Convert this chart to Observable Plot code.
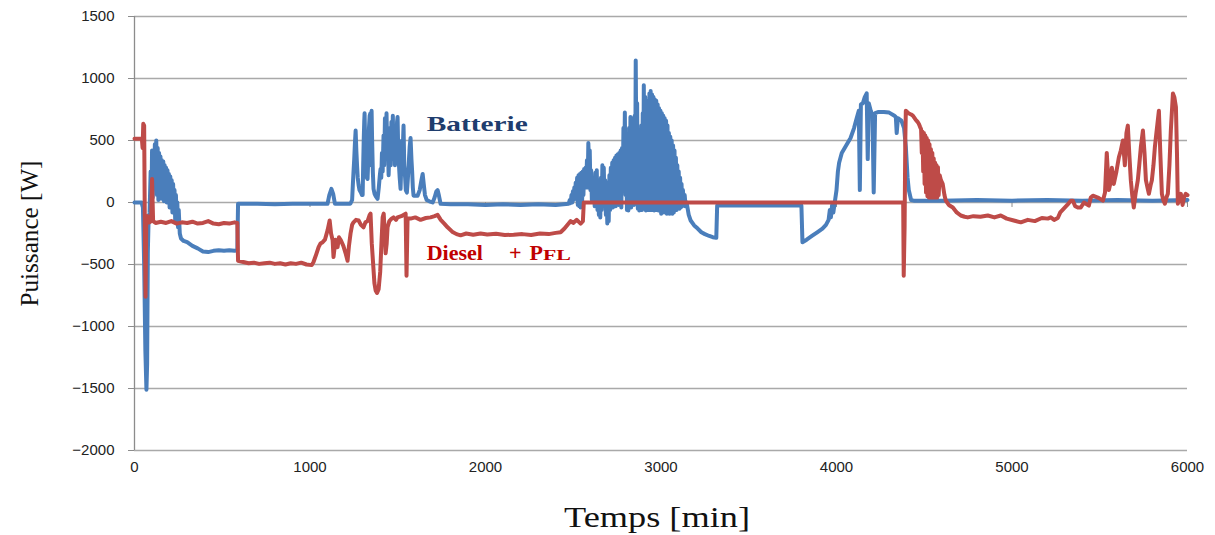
<!DOCTYPE html>
<html><head><meta charset="utf-8">
<script src="https://cdn.jsdelivr.net/npm/d3@7"></script>
<script src="https://cdn.jsdelivr.net/npm/@observablehq/plot@0.6"></script>
<style>body{margin:0;background:#fff;} #chart{width:1215px;height:535px;}</style>
</head><body><div id="chart"></div>
<script>
const xTicks = [0,1000,2000,3000,4000,5000,6000];
const yTicks = [-2000,-1500,-1000,-500,0,500,1000,1500];
const seriesNames = ["Batterie","Diesel + PFL"];
const seriesColors = ["#4a7ebb","#be4b48"];
const xTitle = "Temps [min]";
const yTitle = "Puissance [W]";

// Batterie: [temps (min), puissance (W)]
const batterie = [
[0,0],[40,0],[48,-40],[55,-500],[62,-1200],[68,-1510],[72,-1300],[76,-400],[80,-150],[86,-80],
[92,250],[96,-60],[100,420],[104,40],[108,390],[112,120],[116,470],[120,200],[124,500],[128,60],[132,440],[136,20],[140,400],[144,180],[148,370],[152,30],[156,340],[160,60],[164,330],[168,10],[172,300],[176,100],[180,280],[184,0],[188,260],[192,40],[196,230],[200,-40],[204,210],[208,0],[212,180],[216,-80],[220,150],[224,-60],[228,100],[232,-150],[236,60],[240,-120],[244,0],[248,-200],[252,-60],[258,-250],[265,-290],[280,-310],[300,-320],[330,-350],[360,-370],[390,-395],[420,-400],[450,-390],[480,-385],[510,-390],[540,-385],[570,-390],[586,-385],[590,-10],
[700,-10],[800,-15],[900,-10],[1000,-10],[1100,-10],[1110,60],[1122,110],[1132,70],[1142,-10],[1230,-10],
[1240,20],[1244,140],[1248,250],[1252,350],[1256,480],[1260,580],[1264,420],[1268,300],[1272,200],[1277,140],[1282,100],[1290,80],[1296,60],[1300,60],[1303,300],[1306,500],[1309,650],[1311,720],[1314,500],[1317,300],[1320,220],[1324,200],[1328,190],[1332,350],[1336,600],[1340,700],[1344,720],[1347,300],[1351,740],[1354,500],[1358,250],[1362,110],[1368,70],[1375,50],[1385,30],[1392,120],[1398,220],[1402,270],[1406,200],[1410,400],[1414,250],[1419,540],[1423,300],[1427,680],[1431,350],[1436,720],[1440,400],[1444,500],[1448,220],[1452,400],[1456,600],[1460,300],[1464,650],[1468,450],[1472,700],[1476,350],[1480,600],[1484,300],[1488,515],[1492,350],[1496,650],[1499,690],[1503,400],[1507,300],[1511,200],[1516,110],[1520,300],[1524,500],[1528,400],[1533,620],[1537,300],[1542,200],[1546,100],[1552,80],[1558,200],[1564,350],[1568,450],[1573,520],[1578,350],[1582,250],[1586,120],[1590,55],[1613,55],[1625,100],[1635,180],[1642,230],[1648,150],[1655,60],[1665,20],[1680,10],[1699,0],[1710,40],[1720,90],[1727,100],[1734,60],[1744,-10],
[1800,-15],[1900,-15],[2000,-20],[2100,-15],[2200,-20],[2300,-15],[2400,-20],[2474,-10],
[2480,20],[2485,-5],[2490,60],[2494,0],[2498,90],[2502,20],[2506,120],[2510,30],[2514,160],[2518,40],[2522,200],[2526,-20],[2530,220],[2534,-30],[2538,230],[2542,-40],[2546,240],[2550,-20],[2554,250],[2558,60],[2562,270],[2566,120],[2570,280],[2574,150],[2578,340],[2582,120],[2586,480],[2590,300],[2594,420],[2598,100],[2602,260],[2606,20],[2610,200],[2614,15],[2618,180],[2622,-30],[2626,240],[2630,20],[2634,260],[2638,-60],[2642,180],[2646,-100],[2650,120],[2654,-120],[2658,200],[2662,-60],[2666,300],[2670,60],[2674,280],[2678,-20],[2682,180],[2686,-100],[2690,120],[2694,-170],[2698,160],[2702,-150],[2706,220],[2710,-60],[2714,280],[2718,40],[2722,320],[2726,-40],[2730,340],[2734,60],[2738,360],[2742,-30],[2746,380],[2750,80],[2754,390],[2758,-20],[2762,400],[2766,40],[2770,420],[2774,-40],[2778,440],[2782,100],[2786,600],[2790,140],[2794,725],[2798,60],[2802,420],[2806,-60],[2810,500],[2814,-65],[2818,600],[2822,80],[2826,690],[2830,-40],[2834,650],[2838,60],[2842,680],[2846,-20],[2850,700],[2853,200],[2856,1145],[2860,300],[2864,800],[2868,-50],[2872,500],[2876,-65],[2880,560],[2884,40],[2888,620],[2892,-60],[2896,720],[2899,100],[2902,945],[2906,-40],[2910,850],[2914,-65],[2918,700],[2922,-50],[2926,820],[2930,-60],[2934,880],[2938,-40],[2941,900],[2945,-60],[2949,870],[2953,-30],[2957,850],[2961,-65],[2965,830],[2969,-40],[2973,820],[2977,-60],[2981,790],[2985,-65],[2989,760],[2993,-50],[2997,740],[3001,-90],[3005,720],[3009,-60],[3013,700],[3017,-80],[3021,680],[3025,-40],[3029,660],[3033,-90],[3037,620],[3041,-60],[3045,560],[3049,-90],[3053,530],[3057,-70],[3061,500],[3065,-90],[3069,460],[3073,-80],[3077,420],[3081,-50],[3085,360],[3089,-60],[3093,300],[3097,-40],[3101,250],[3105,-50],[3109,200],[3113,-40],[3117,150],[3121,-30],[3125,100],[3130,-20],[3135,60],[3140,-30],[3146,0],[3158,-100],[3169,-145],[3189,-185],[3209,-210],[3230,-240],[3250,-255],[3275,-270],[3295,-280],[3315,-285],[3320,-25],
[3400,-25],[3500,-25],[3600,-25],[3700,-25],[3800,-25],
[3806,-320],[3830,-300],[3860,-270],[3890,-240],[3920,-210],[3940,-180],[3955,-140],[3962,-60],[3968,-120],[3975,-20],[3982,-80],[3990,0],[4000,100],[4008,250],[4015,320],[4030,400],[4055,460],[4080,520],[4100,600],[4115,680],[4127,740],[4133,100],[4139,790],[4150,800],[4161,850],[4172,880],[4178,350],[4184,800],[4195,740],[4205,700],[4212,80],[4220,720],[4240,730],[4270,730],[4300,725],[4330,700],[4338,690],[4343,560],[4350,680],[4370,660],[4385,600],[4395,450],[4405,200],[4412,100],[4425,20],[4440,15],
[4600,15],[4800,20],[5000,15],[5200,20],[5400,15],[5600,20],[5800,15],[6000,20]
];

// Diesel + PFL: [temps (min), puissance (W)]
const diesel = [
[0,515],[42,515],[46,440],[50,635],[55,620],[59,-200],[63,-760],[67,-150],[75,-110],[85,-160],[95,-150],[100,190],[106,-150],[120,-165],[150,-155],[180,-165],[210,-150],[240,-170],[270,-160],[300,-165],[330,-155],[360,-170],[390,-165],[420,-150],[450,-170],[480,-175],[510,-165],[540,-170],[570,-160],[586,-165],[590,-470],
[620,-480],[650,-490],[680,-485],[710,-495],[740,-490],[770,-485],[800,-495],[830,-490],[860,-500],[890,-490],[920,-495],[950,-485],[980,-500],[1010,-505],[1020,-480],[1035,-420],[1049,-360],[1060,-330],[1072,-320],[1085,-300],[1100,-225],[1112,-145],[1120,-250],[1129,-305],[1134,-440],[1145,-300],[1157,-360],[1165,-280],[1174,-300],[1190,-350],[1203,-410],[1214,-470],[1222,-350],[1231,-250],[1240,-180],[1248,-160],[1262,-140],[1277,-145],[1290,-180],[1305,-200],[1316,-160],[1328,-150],[1340,-100],[1345,-90],[1352,-330],[1360,-500],[1367,-650],[1374,-710],[1382,-730],[1391,-700],[1400,-560],[1408,-300],[1414,-120],[1420,-90],[1426,-250],[1431,-410],[1437,-330],[1442,-200],[1452,-150],[1465,-130],[1476,-120],[1490,-140],[1499,-120],[1520,-110],[1545,-90],[1550,-590],[1556,-130],[1573,-130],[1600,-120],[1630,-140],[1660,-125],[1687,-120],[1710,-110],[1727,-100],[1745,-140],[1765,-170],[1784,-200],[1810,-235],[1835,-255],[1858,-265],[1890,-250],[1930,-260],[1972,-250],[2010,-258],[2060,-252],[2110,-262],[2160,-260],[2210,-255],[2260,-262],[2310,-250],[2360,-255],[2400,-245],[2428,-240],[2450,-210],[2470,-175],[2485,-150],[2500,-165],[2520,-140],[2542,-170],[2555,-150],[2560,0],
[3000,0],[3500,0],[4000,0],[4380,0],[4383,-590],[4388,-200],[4392,500],[4395,740],[4410,720],[4425,710],[4435,700],[4450,670],[4462,650],[4469,635],[4476,610],[4482,590],[4486,400],[4490,570],[4494,250],[4498,560],[4502,150],[4506,540],[4510,80],[4514,520],[4518,50],[4522,500],[4526,40],[4530,470],[4534,60],[4538,430],[4542,40],[4546,400],[4550,60],[4554,355],[4558,40],[4562,320],[4566,60],[4570,300],[4574,40],[4578,285],[4582,60],[4588,220],[4595,180],[4605,150],[4615,60],[4623,15],[4640,-20],[4663,-40],[4685,-80],[4708,-105],[4730,-115],[4748,-120],[4780,-110],[4820,-115],[4862,-105],[4900,-120],[4936,-105],[4970,-130],[5010,-145],[5050,-160],[5090,-140],[5130,-150],[5170,-125],[5204,-130],[5221,-120],[5240,-140],[5261,-125],[5275,-80],[5295,-50],[5315,-20],[5335,15],[5347,15],[5360,-30],[5375,-40],[5392,-40],[5410,0],[5438,-25],[5449,40],[5461,55],[5489,40],[5518,15],[5530,80],[5540,400],[5546,250],[5552,100],[5560,150],[5569,280],[5580,150],[5595,250],[5609,365],[5620,420],[5632,500],[5643,300],[5652,560],[5660,620],[5668,400],[5677,180],[5685,60],[5694,-40],[5705,80],[5717,180],[5725,300],[5734,445],[5746,580],[5755,400],[5763,180],[5772,120],[5780,70],[5790,140],[5797,180],[5806,300],[5814,445],[5822,550],[5837,740],[5845,400],[5854,70],[5862,20],[5871,-10],[5880,40],[5888,70],[5897,300],[5905,580],[5917,880],[5925,850],[5934,770],[5940,400],[5945,-10],[5955,40],[5962,70],[5972,-20],[5980,40],[5990,70],[6000,60]
];

// Series labels: anchor (temps, puissance) of the annotation text
const labelBatterie = [{t:1665, w:630, text:"Batterie"}];
const labelDiesel = [{t:1665, w:-410, text:"Diesel + PFL"}];

const rows = [
  ...batterie.map(([t,w]) => ({serie: seriesNames[0], t, w})),
  ...diesel.map(([t,w]) => ({serie: seriesNames[1], t, w}))
];

const fmt = d => d < 0 ? "\u2212" + Math.abs(d) : String(d);

const chart = Plot.plot({
  width: 1215, height: 535,
  marginLeft: 134, marginRight: 28, marginTop: 16, marginBottom: 85,
  style: {fontFamily: "'Liberation Sans', Arial, sans-serif", fontSize: "15px", color: "#222", background: "#fff"},
  x: {domain: [0, 6000], label: null},
  y: {domain: [-2000, 1500], label: null},
  color: {domain: seriesNames, range: seriesColors},
  marks: [
    Plot.ruleY(yTicks, {stroke: "#a9a9a9", strokeWidth: 1.3}),
    Plot.ruleX([0], {stroke: "#8c8c8c", strokeWidth: 1.3}),
    Plot.ruleX(xTicks.slice(1), {y1: 0, y2: -40, stroke: "#8c8c8c", strokeWidth: 1}),
    Plot.axisY({ticks: yTicks, tickSize: 6, tickPadding: 14, stroke: "#8c8c8c", fill: "#222", tickFormat: fmt, label: null}),
    Plot.axisX({ticks: xTicks, tickSize: 0, tickPadding: 11, fill: "#222", tickFormat: fmt, label: null}),
    Plot.line(rows.filter(d => d.serie === seriesNames[0]), {x: "t", y: "w", stroke: "serie", strokeWidth: 4, strokeLinejoin: "round"}),
    Plot.line(rows.filter(d => d.serie === seriesNames[1]), {x: "t", y: "w", stroke: "serie", strokeWidth: 4, strokeLinejoin: "round"}),
    Plot.text(labelBatterie, {x: "t", y: "w", text: "text", textAnchor: "start", fontWeight: "bold", fontFamily: "'Liberation Serif', serif", fontSize: 21, fill: "#1f3d6e", className: "lbl-bat"}),
    Plot.text(labelDiesel, {x: "t", y: "w", text: "text", textAnchor: "start", fontWeight: "bold", fontFamily: "'Liberation Serif', serif", fontSize: 22, fill: "#c00000", className: "lbl-die"}),
    Plot.text([xTitle], {frameAnchor: "bottom", dy: 76, dx: -4, textAnchor: "middle", fontFamily: "'Liberation Serif', serif", fontSize: 30, fill: "#111", className: "ttl-x"}),
    Plot.text([yTitle], {frameAnchor: "left", dx: -105, textAnchor: "middle", rotate: -90, fontFamily: "'Liberation Serif', serif", fontSize: 25, fill: "#111", className: "ttl-y"})
  ]
});
document.getElementById("chart").appendChild(chart);

// adjust text widths and the small-caps "FL" as seen in the reference
const svg = d3.select(chart);
svg.selectAll(".lbl-bat text").attr("textLength", 101).attr("lengthAdjust", "spacingAndGlyphs");
svg.selectAll(".ttl-x text").attr("textLength", 186).attr("lengthAdjust", "spacingAndGlyphs");
svg.selectAll(".ttl-y text").attr("textLength", 146).attr("lengthAdjust", "spacingAndGlyphs");
svg.selectAll(".lbl-die text").each(function() {
  const t = d3.select(this);
  t.text(null);
  t.append("tspan").text("Diesel");
  t.append("tspan").attr("dx", 26).text("+");
  t.append("tspan").attr("dx", 8).text("P");
  t.append("tspan").attr("font-size", 15).attr("textLength", 28).attr("lengthAdjust", "spacingAndGlyphs").text("FL");
});
</script></body></html>
